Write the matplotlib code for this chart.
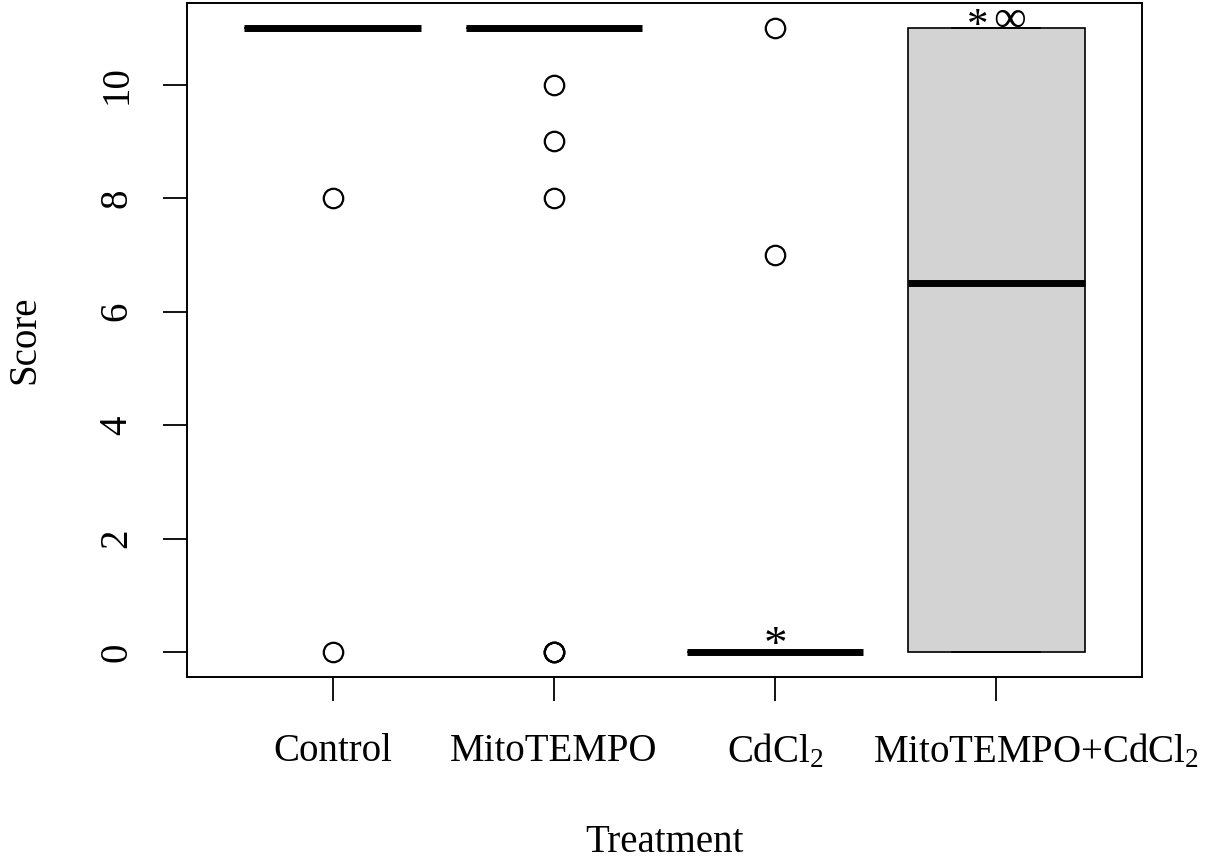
import matplotlib
matplotlib.use("Agg")
import matplotlib.pyplot as plt
import matplotlib.transforms as mtransforms
import numpy as np

plt.rcParams['font.family'] = ['Liberation Serif', 'DejaVu Serif']
plt.rcParams['mathtext.fontset'] = 'custom'
plt.rcParams['mathtext.rm'] = 'Liberation Serif'
plt.rcParams['mathtext.it'] = 'Liberation Serif:italic'

# summary stats (R-style boxplot)
groups = ['Control', 'MitoTEMPO', 'CdCl$_2$', 'MitoTEMPO+CdCl$_2$']
medians = [11, 11, 0, 6.5]
q1 = [11, 11, 0, 0]
q3 = [11, 11, 0, 11]
whislo = [11, 11, 0, 0]
whishi = [11, 11, 0, 11]
outliers = [[8, 0], [10, 9, 8, 0, 0, 0], [11, 7], []]
yticks = [0, 2, 4, 6, 8, 10]

stats = []
for i in range(len(groups)):
    stats.append(dict(med=medians[i], q1=q1[i], q3=q3[i],
                      whislo=whislo[i], whishi=whishi[i],
                      fliers=np.array(outliers[i])))

fig = plt.figure(figsize=(12.12, 8.61), dpi=100)
ax = fig.add_axes([187/1212, 1-677/861, (1142-187)/1212, (677-3)/861])

pos = np.arange(1, len(groups)+1)
bp = ax.bxp(stats, positions=pos, widths=0.8, patch_artist=True,
            boxprops=dict(facecolor='#d3d3d3', edgecolor='black', linewidth=1.2),
            medianprops=dict(color='black', linewidth=5, solid_capstyle='butt'),
            whiskerprops=dict(color='black', linewidth=1.2, linestyle='--'),
            capprops=dict(color='black', linewidth=1.2),
            flierprops=dict(marker='o', markerfacecolor='none', markeredgecolor='black',
                            markersize=14, markeredgewidth=1.6, linestyle='none'))

# significance marks
ax.annotate('*', xy=(pos[2], medians[2]), xytext=(0, -4.3), textcoords='offset points',
            ha='center', va='baseline', fontsize=34, annotation_clip=False)
ax.annotate('*', xy=(pos[3], q3[3]), xytext=(-13, -6.6), textcoords='offset points',
            ha='center', va='baseline', fontsize=31, annotation_clip=False)
ax.annotate('∞', xy=(pos[3], q3[3]), xytext=(10, -2.7), textcoords='offset points',
            ha='center', va='baseline', fontsize=33, annotation_clip=False)

ax.set_xlim(0.34, 4.66)
ax.set_ylim(-0.44, 11.44)
ax.set_xticks(pos)
ax.set_xticklabels(groups, fontsize=28)
ax.set_yticks(yticks)
ax.set_yticklabels([str(t) for t in yticks], fontsize=28, rotation=90, va='center')
ax.tick_params(axis='both', direction='out', length=17, width=1.3, pad=20, color='black')
ax.tick_params(axis='x', pad=23)
for s in ax.spines.values():
    s.set_linewidth(1.4)

# last category label sits a bit right of its tick in the original
lab = ax.get_xticklabels()[-1]
lab.set_transform(lab.get_transform() + mtransforms.ScaledTranslation(0.4, 0, fig.dpi_scale_trans))

fig.text(664/1212, 1-843/861, 'Treatment', ha='center', va='center', fontsize=28)
fig.text(25/1212, 1-340/861, 'Score', ha='center', va='center', rotation=90, fontsize=28)

fig.savefig('out.png', dpi=100)
